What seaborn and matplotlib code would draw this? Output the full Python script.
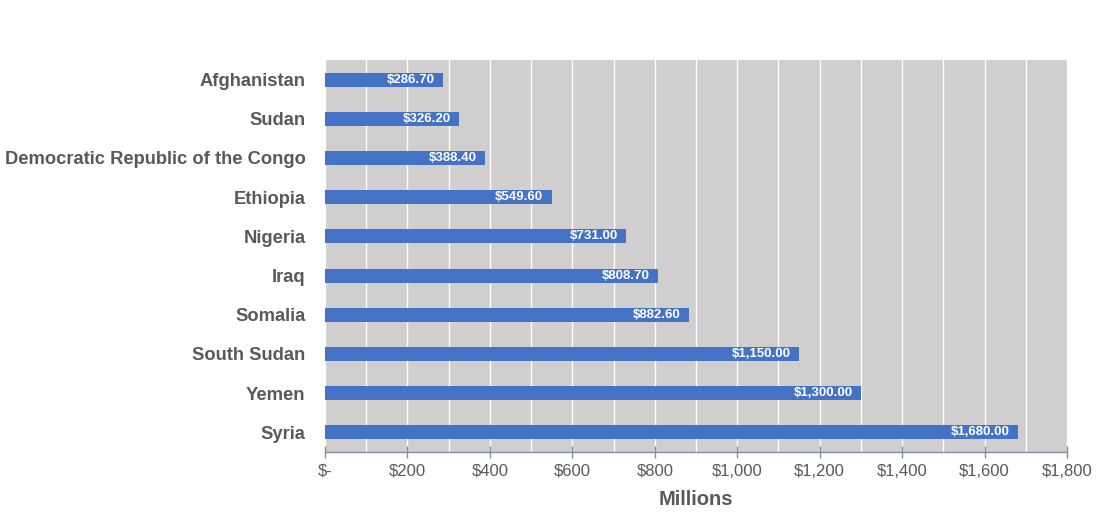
import numpy as np
import pandas as pd
import seaborn as sbn
import matplotlib.pyplot as plt
from matplotlib.ticker import MultipleLocator, FuncFormatter

countries = ['Afghanistan', 'Sudan', 'Democratic Republic of the Congo', 'Ethiopia',
             'Nigeria', 'Iraq', 'Somalia', 'South Sudan', 'Yemen', 'Syria']
amounts = [286.7, 326.2, 388.4, 549.6, 731.0, 808.7, 882.6, 1150.0, 1300.0, 1680.0]

data = pd.DataFrame({'Country': countries, 'Amount': amounts})

sbn.set_style('white')
plt.rcParams['font.family'] = ['Liberation Sans', 'DejaVu Sans']

fig = plt.figure(figsize=(10.99, 5.23), dpi=100)
ax = fig.add_axes([0.2957, 0.1358, 0.6752, 0.7495])

sbn.barplot(data=data, x='Amount', y='Country', orient='h', color='#4472C4',
            saturation=1, width=0.36, linewidth=0, ax=ax)

ax.set_facecolor('#D0CECE')
ax.set_xlim(0, 1800)
ax.set_ylim(9.5, -0.5)

# gridlines every 100, labelled ticks every 200
ax.xaxis.set_major_locator(MultipleLocator(200))
ax.xaxis.set_minor_locator(MultipleLocator(100))
ax.grid(axis='x', which='both', color='white', linewidth=1)
ax.set_axisbelow(True)


def money(v, pos):
    if v == 0:
        return '$-'
    return '${:,.0f}'.format(v)


ax.xaxis.set_major_formatter(FuncFormatter(money))

for side in ['top', 'right', 'left']:
    ax.spines[side].set_visible(False)
ax.spines['bottom'].set_color('#7F8FA9')
ax.spines['bottom'].set_linewidth(1)

ax.tick_params(axis='x', which='major', bottom=True, direction='inout', length=9, width=1,
               color='#7F8FA9', labelsize=12, labelcolor='#595959', pad=4)
ax.tick_params(axis='x', which='minor', bottom=False, length=0)
ax.tick_params(axis='y', length=0, pad=14, labelsize=13.2, labelcolor='#595959')
for lbl in ax.get_yticklabels():
    lbl.set_fontweight('bold')

ax.set_ylabel('')
ax.set_xlabel('Millions', fontsize=14.5, fontweight='bold', color='#595959', labelpad=8)

# value labels, right-aligned inside the bar end
for bar, v in zip(ax.containers[0], amounts):
    y = bar.get_y() + bar.get_height() / 2
    ax.annotate('${:,.2f}'.format(v), xy=(v, y), xytext=(-6, 0),
                textcoords='offset points', ha='right', va='center',
                color='white', fontsize=9.5, fontweight='bold',
                family=['Liberation Sans Narrow', 'Liberation Sans', 'DejaVu Sans'])

plt.savefig('out.png', dpi=100)
